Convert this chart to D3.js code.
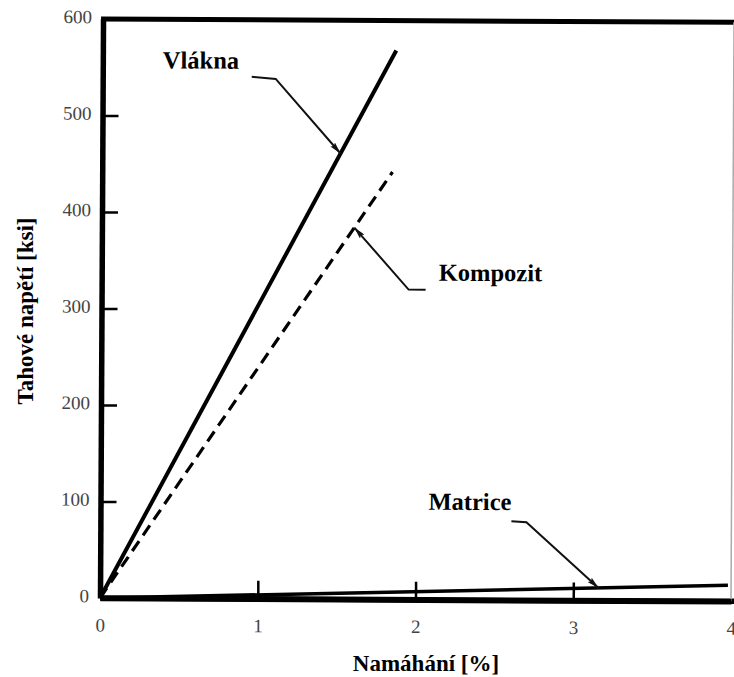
<!DOCTYPE html>
<html>
<head>
<meta charset="utf-8">
<script src="https://cdn.jsdelivr.net/npm/d3@7"></script>
<style>
body { margin: 0; background: #fff; }
svg { display: block; }
text { font-family: "Liberation Serif", "Times New Roman", serif; }
</style>
</head>
<body>
<div id="chart"></div>
<script>
// strain [%] and tensile stress [ksi]
const strainTicks = [0, 1, 2, 3, 4];
const stressTicks = [0, 100, 200, 300, 400, 500, 600];

const fiberStrain = [0, 1.86];
const fiberStress = [0, 569];
const compositeStrain = [0, 1.84];
const compositeStress = [0, 443];
const matrixStrain = [0, 3.98];
const matrixStress = [0, 16.5];

const curveNames = ["Vlákna", "Kompozit", "Matrice"];
// strain at which the arrow of each label touches its curve
const arrowStrain = [1.51, 1.60, 3.16];

const width = 734, height = 677;
const serif = "'Liberation Serif', 'Times New Roman', serif";

let x = d3.scaleLinear().domain([0, 4]).range([100, 731]);
let y = d3.scaleLinear().domain([0, 600]).range([598, 19]);

let series = [
    { name: curveNames[0], strain: fiberStrain, stress: fiberStress, dash: null, lw: 4 },
    { name: curveNames[1], strain: compositeStrain, stress: compositeStress, dash: "12,7", lw: 3.2 },
    { name: curveNames[2], strain: matrixStrain, stress: matrixStress, dash: null, lw: 3.5 }
];

// label placement (pixels): text anchor, leader start and elbow
let labelLayout = [
    { tx: 160, ty: 68, start: [249, 76], elbow: [273, 78] },
    { tx: 437, ty: 279, start: [424, 288], elbow: [407, 288] },
    { tx: 428, ty: 508, start: [511, 519], elbow: [526, 520] }
];

let svg = d3.select("#chart").append("svg")
    .attr("width", width).attr("height", height);

svg.append("defs").append("marker")
    .attr("id", "arrow")
    .attr("viewBox", "0 0 12 6")
    .attr("refX", 12).attr("refY", 3)
    .attr("markerWidth", 12).attr("markerHeight", 6)
    .attr("markerUnits", "userSpaceOnUse")
    .attr("orient", "auto")
    .append("path").attr("d", "M0,0 L12,3 L0,6 L2,3 Z").attr("fill", "#111");

// the scanned figure is tilted a little clockwise
let plot = svg.append("g").attr("transform", "rotate(0.3, 100, 598)");

// frame: top and bottom edges run off the page, thin right edge
plot.append("line")
    .attr("x1", x(0) - 2).attr("x2", width + 10)
    .attr("y1", y(600)).attr("y2", y(600))
    .attr("stroke", "#000").attr("stroke-width", 5);
plot.append("line")
    .attr("x1", x(0)).attr("x2", width + 10)
    .attr("y1", y(0)).attr("y2", y(0))
    .attr("stroke", "#000").attr("stroke-width", 5.5);
plot.append("line")
    .attr("x1", x(4)).attr("x2", x(4))
    .attr("y1", y(600)).attr("y2", y(0))
    .attr("stroke", "#aaa").attr("stroke-width", 1.5);

let yAxis = plot.append("g")
    .attr("transform", "translate(" + x(0) + ",0)")
    .call(d3.axisLeft(y).tickValues(stressTicks).tickFormat(d3.format("d"))
        .tickSize(-16).tickSizeOuter(0).tickPadding(11));
let xAxis = plot.append("g")
    .attr("transform", "translate(0," + y(0) + ")")
    .call(d3.axisBottom(x).tickValues(strainTicks).tickFormat(d3.format("d"))
        .tickSize(-18).tickSizeOuter(0).tickPadding(20));

[yAxis, xAxis].forEach(function (ax) {
    ax.attr("font-family", serif);
    ax.select(".domain").attr("stroke", "#000").attr("stroke-width", 5.5);
    ax.selectAll(".tick line").attr("stroke", "#000").attr("stroke-width", 2.5);
    ax.selectAll(".tick text").attr("fill", "#444").attr("font-size", "19px")
        .style("font-family", serif);
});
yAxis.selectAll(".tick text").attr("dy", "0.2em");
// no tick mark at the corners
yAxis.selectAll(".tick line").filter(function (d) { return d === 0 || d === 600; }).remove();
xAxis.selectAll(".tick line").filter(function (d) { return d === 0 || d === 4; }).remove();

let line = d3.line()
    .x(function (d) { return x(d[0]); })
    .y(function (d) { return y(d[1]); });

series.forEach(function (s) {
    let pts = s.strain.map(function (v, i) { return [v, s.stress[i]]; });
    plot.append("path")
        .datum(pts)
        .attr("d", line)
        .attr("fill", "none")
        .attr("stroke", "#000")
        .attr("stroke-width", s.lw)
        .attr("stroke-dasharray", s.dash);
});

// labels with leader arrows pointing at the curves
series.forEach(function (s, i) {
    let lay = labelLayout[i];
    let slope = s.stress[1] / s.strain[1];
    let tip = [x(arrowStrain[i]), y(arrowStrain[i] * slope)];
    plot.append("path")
        .attr("d", "M" + lay.start + "L" + lay.elbow + "L" + tip)
        .attr("fill", "none")
        .attr("stroke", "#111")
        .attr("stroke-width", 2)
        .attr("marker-end", "url(#arrow)");
    plot.append("text")
        .attr("x", lay.tx).attr("y", lay.ty)
        .attr("font-size", "24.5px").attr("font-weight", "bold")
        .attr("fill", "#000")
        .text(s.name);
});

// axis titles
svg.append("text")
    .attr("x", 426).attr("y", 671)
    .attr("text-anchor", "middle")
    .attr("font-size", "23px").attr("font-weight", "bold")
    .text("Namáhání [%]");
svg.append("text")
    .attr("transform", "translate(33,311) rotate(-90)")
    .attr("text-anchor", "middle")
    .attr("font-size", "23px").attr("font-weight", "bold")
    .text("Tahové napětí [ksi]");
</script>
</body>
</html>
